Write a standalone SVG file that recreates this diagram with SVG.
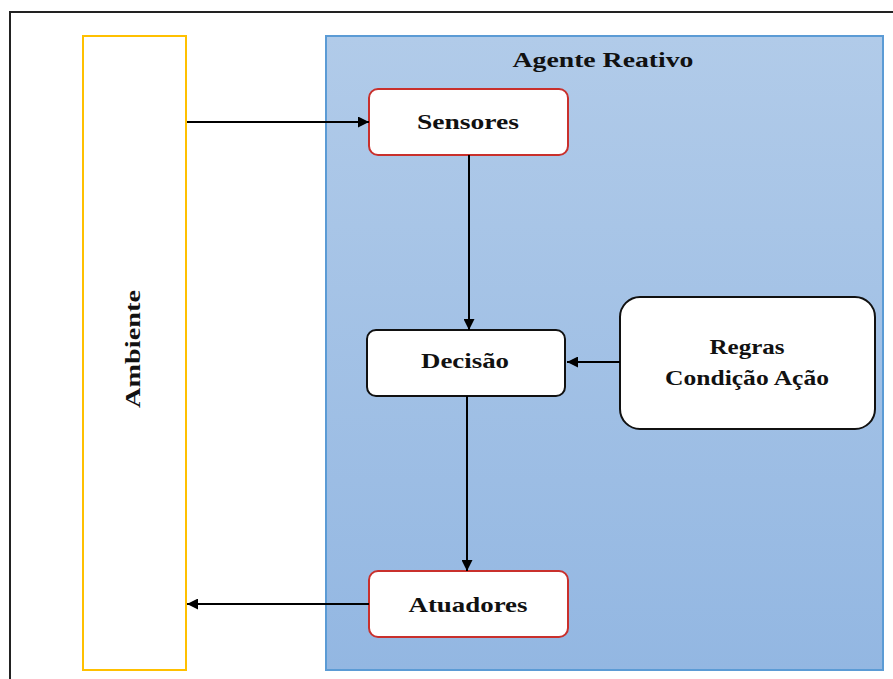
<svg xmlns="http://www.w3.org/2000/svg" width="893" height="679" viewBox="0 0 893 679">
  <style>
    .lbl { font-family: "Liberation Serif", "DejaVu Serif", serif; font-weight: bold; font-size: 22px; fill: #111; text-anchor: middle; }
    .box { fill: #ffffff; stroke-width: 2; }
    .red { stroke: #C9302C; }
    .blk { stroke: #111111; }
    .conn { stroke: #000; stroke-width: 2; fill: none; marker-end: url(#arrow); }
  </style>
  <defs>
    <linearGradient id="agentFill" x1="0" y1="0" x2="0" y2="1">
      <stop offset="0" stop-color="#B1CBE9"/>
      <stop offset="1" stop-color="#93B7E2"/>
    </linearGradient>
    <marker id="arrow" viewBox="0 0 10 10" refX="10" refY="5" markerWidth="12" markerHeight="11" orient="auto" markerUnits="userSpaceOnUse">
      <path d="M0,0 L10,5 L0,10 z" fill="#000"/>
    </marker>
  </defs>

  <rect width="893" height="679" fill="#ffffff"/>
  <!-- outer frame -->
  <rect x="10" y="12" width="900" height="700" fill="none" stroke="#222" stroke-width="2"/>

  <g id="ambiente">
    <rect x="83" y="36" width="103" height="634" fill="#ffffff" stroke="#FFC000" stroke-width="2"/>
    <text class="lbl" transform="translate(140,349) rotate(-90)" textLength="118" lengthAdjust="spacingAndGlyphs">Ambiente</text>
  </g>

  <g id="agente">
    <rect x="326" y="36" width="557" height="634" fill="url(#agentFill)" stroke="#5B9BD5" stroke-width="2"/>
    <text class="lbl" x="603" y="67" textLength="181" lengthAdjust="spacingAndGlyphs">Agente Reativo</text>
  </g>

  <g id="sensores">
    <rect class="box red" x="369" y="89" width="199" height="66" rx="9"/>
    <text class="lbl" x="468" y="129" textLength="102" lengthAdjust="spacingAndGlyphs">Sensores</text>
  </g>

  <g id="decisao">
    <rect class="box blk" x="367" y="330" width="198" height="66" rx="9"/>
    <text class="lbl" x="465" y="368" textLength="88" lengthAdjust="spacingAndGlyphs">Decisão</text>
  </g>

  <g id="regras">
    <rect class="box blk" x="620" y="297" width="255" height="132" rx="20"/>
    <text class="lbl" x="747" y="354" textLength="75" lengthAdjust="spacingAndGlyphs">Regras</text>
    <text class="lbl" x="747" y="385" textLength="164" lengthAdjust="spacingAndGlyphs">Condição Ação</text>
  </g>

  <g id="atuadores">
    <rect class="box red" x="369" y="571" width="199" height="66" rx="9"/>
    <text class="lbl" x="468" y="612" textLength="119" lengthAdjust="spacingAndGlyphs">Atuadores</text>
  </g>

  <g id="connectors">
    <line class="conn" x1="187" y1="122" x2="369" y2="122"/>
    <line class="conn" x1="469" y1="155" x2="469" y2="330"/>
    <line class="conn" x1="620" y1="362" x2="567" y2="362"/>
    <line class="conn" x1="467" y1="396" x2="467" y2="571"/>
    <line class="conn" x1="369" y1="604" x2="187" y2="604"/>
  </g>
</svg>
